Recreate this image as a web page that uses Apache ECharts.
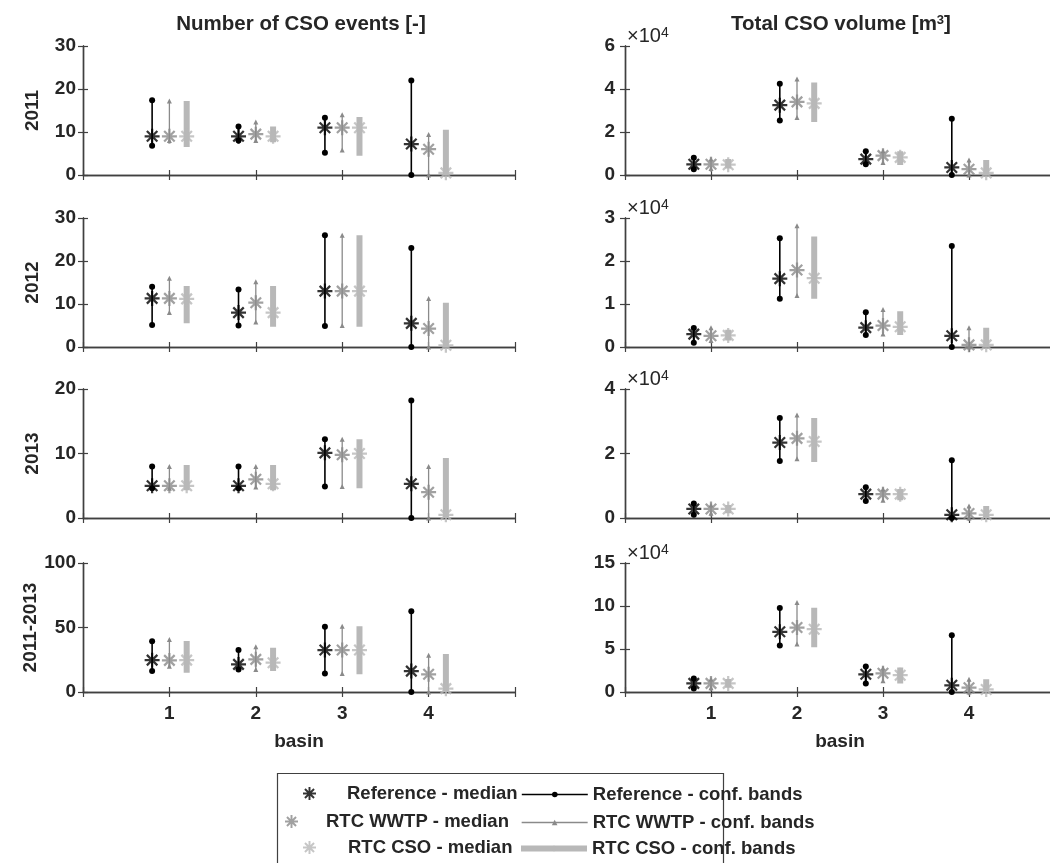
<!DOCTYPE html>
<html>
<head>
<meta charset="utf-8">
<script src="https://cdn.jsdelivr.net/npm/echarts@6/dist/echarts.min.js"></script>
<style>
html,body{margin:0;padding:0;background:#fff;}
#chart{width:1050px;height:863px;}
</style>
</head>
<body>
<div id="chart"></div>
<script>
// ---------------- DATA ----------------
const basins = [1, 2, 3, 4];
const periods = ['2011', '2012', '2013', '2011-2013'];
const scenarios = ['Reference', 'RTC WWTP', 'RTC CSO'];

// Number of CSO events [-]: per basin [lower conf. band, median, upper conf. band]
const events2011Ref  = [[6.8, 9, 17.4], [8, 9, 11.3], [5.2, 11, 13.3], [0, 7.2, 22]];
const events2011Wwtp = [[8, 9, 17.2], [8, 9.5, 12.3], [5.8, 11, 14], [0, 6, 9.4]];
const events2011Cso  = [[6.5, 9, 17.2], [7.6, 9, 11.3], [4.5, 11, 13.5], [0, 0.5, 10.5]];

const events2012Ref  = [[5.1, 11.3, 14], [5, 8, 13.4], [4.9, 13, 26], [0, 5.5, 23]];
const events2012Wwtp = [[8, 11.3, 16], [5.8, 10.3, 15.2], [5, 13, 26], [0, 4.3, 11.3]];
const events2012Cso  = [[5.5, 11.2, 14.2], [4.7, 8, 14.2], [4.7, 13, 26], [0, 0.4, 10.3]];

const events2013Ref  = [[4.6, 5, 8], [4.6, 5, 8], [4.9, 10.1, 12.2], [0, 5.3, 18.2]];
const events2013Wwtp = [[4.6, 5, 8], [4.8, 6, 8], [4.9, 9.8, 12.2], [0, 4, 8]];
const events2013Cso  = [[4.3, 5, 8.2], [4.3, 5.3, 8.2], [4.6, 10, 12.2], [0, 0.5, 9.3]];

const eventsAllRef  = [[16.2, 24.7, 39.4], [17.5, 21.4, 32.5], [14.4, 32.5, 50.5], [0, 16.2, 62.6]];
const eventsAllWwtp = [[20, 24.5, 40.7], [17.5, 25.3, 35], [14.4, 32.5, 51], [0, 13.7, 28.4]];
const eventsAllCso  = [[15, 24.7, 39.5], [16.2, 22.7, 34.3], [13.7, 32.5, 51], [0, 2.6, 29.5]];

// Total CSO volume [m3]: per basin [lower conf. band, median, upper conf. band]
const volume2011Ref  = [[2700, 5000, 8000], [25400, 32500, 42400], [5000, 7400, 11000], [0, 3500, 26200]];
const volume2011Wwtp = [[3000, 5000, 7500], [26700, 34000, 44600], [5800, 9000, 11300], [0, 2700, 7000]];
const volume2011Cso  = [[3000, 4800, 7500], [24600, 33300, 43000], [4700, 8200, 11000], [0, 1000, 7000]];

const volume2012Ref  = [[1000, 3000, 4400], [11200, 15900, 25300], [2800, 4500, 8100], [0, 2600, 23500]];
const volume2012Wwtp = [[1500, 2600, 4500], [12000, 17900, 28200], [3000, 5000, 8700], [0, 500, 4500]];
const volume2012Cso  = [[1500, 2700, 4000], [11200, 16000, 25700], [2800, 4700, 8300], [0, 500, 4500]];

const volume2013Ref  = [[1000, 2800, 4500], [17700, 23400, 31000], [5300, 7400, 9500], [0, 1000, 17900]];
const volume2013Wwtp = [[1500, 2800, 4000], [18400, 24700, 31900], [5500, 7400, 9000], [0, 1400, 3700]];
const volume2013Cso  = [[1500, 2800, 4000], [17400, 23700, 31000], [5500, 7400, 9000], [0, 1000, 3700]];

const volumeAllRef  = [[4000, 10000, 15600], [54000, 70000, 97800], [10000, 20600, 29600], [0, 7800, 66000]];
const volumeAllWwtp = [[5000, 10000, 15000], [55700, 75000, 104000], [13000, 21800, 28000], [0, 5000, 14800]];
const volumeAllCso  = [[5000, 10000, 15000], [52000, 73000, 98000], [10000, 19500, 28500], [0, 3000, 14800]];

// y-axis tick ranges
const eventsMax = [30, 30, 20, 100];
const eventsStep = [10, 10, 10, 50];
const volumeMax = [60000, 30000, 40000, 150000];
const volumeStep = [20000, 10000, 20000, 50000];

// ---------------- LAYOUT / STYLE ----------------
const panelData = [
  [events2011Ref, events2011Wwtp, events2011Cso], [volume2011Ref, volume2011Wwtp, volume2011Cso],
  [events2012Ref, events2012Wwtp, events2012Cso], [volume2012Ref, volume2012Wwtp, volume2012Cso],
  [events2013Ref, events2013Wwtp, events2013Cso], [volume2013Ref, volume2013Wwtp, volume2013Cso],
  [eventsAllRef, eventsAllWwtp, eventsAllCso], [volumeAllRef, volumeAllWwtp, volumeAllCso]
];

const rowTops = [46, 218, 389, 563];
const rowH = 129;
const colLeft = [83, 625];
const colW = [432, 430];
const offsets = [-0.2, 0, 0.2];
const FONT = 'Liberation Sans, Arial, Helvetica, sans-serif';
const TXT = '#262626';
const AX = '#404040';
const FS = 19;

const colors = ['#000000', '#8a8a8a', '#b8b8b8'];
const ASTER = 'path://M0 8.5L20 8.5L20 11.5L0 11.5Z' +
  'M8.5 0L11.5 0L11.5 20L8.5 20Z' +
  'M4.06 1.94L18.06 15.94L15.94 18.06L1.94 4.06Z' +
  'M4.06 18.06L1.94 15.94L15.94 1.94L18.06 4.06Z';

const grids = [], xAxes = [], yAxes = [], series = [];

panelData.forEach((trip, p) => {
  const row = Math.floor(p / 2), col = p % 2;
  grids.push({left: colLeft[col], top: rowTops[row], width: colW[col], height: rowH,
              outerBoundsMode: 'none', containLabel: false});
  const axisLine = {show: true, lineStyle: {color: AX, width: 1.4}};
  const tick = {show: true, inside: true, length: 5, lineStyle: {color: AX, width: 1.2}};
  const isBottom = row === 3;
  xAxes.push({
    gridIndex: p, type: 'value', min: 0, max: 5, interval: 1, position: 'bottom',
    axisLine, axisTick: tick, splitLine: {show: false},
    axisLabel: {show: isBottom, margin: 12, color: TXT, fontSize: FS, fontWeight: 'bold', fontFamily: FONT,
      formatter: v => (v >= 1 && v <= 4) ? String(v) : ''},
    name: isBottom ? 'basin' : '', nameLocation: 'middle', nameGap: 40,
    nameTextStyle: {color: TXT, fontSize: FS, fontWeight: 'bold', fontFamily: FONT}
  });
  xAxes.push({
    gridIndex: p, type: 'value', min: 0, max: 5, interval: 1, position: 'top',
    axisLine, axisTick: tick, axisLabel: {show: false}, splitLine: {show: false}
  });
  const ymax = col === 0 ? eventsMax[row] : volumeMax[row];
  const ystep = col === 0 ? eventsStep[row] : volumeStep[row];
  yAxes.push({
    gridIndex: p, type: 'value', min: 0, max: ymax, interval: ystep, position: 'left',
    axisLine, axisTick: tick, splitLine: {show: false},
    axisLabel: {margin: col === 0 ? 7 : 10, color: TXT, fontSize: FS, fontWeight: 'bold', fontFamily: FONT,
      formatter: v => col === 0 ? String(v) : String(v / 10000)},
    name: col === 0 ? periods[row] : '{x|×10}{s|4}',
    nameLocation: col === 0 ? 'middle' : 'end',
    nameRotate: col === 0 ? 90 : 0,
    nameGap: col === 0 ? 41 : 0,
    nameTextStyle: col === 0
      ? {color: TXT, fontSize: FS, fontWeight: 'bold', fontFamily: FONT}
      : {align: 'left', verticalAlign: 'bottom', padding: [0, 0, 0, 2],
         rich: {x: {color: TXT, fontSize: 20, fontFamily: FONT},
                s: {color: TXT, fontSize: 14, fontFamily: FONT, verticalAlign: 'top', padding: [0, 0, 6, 0]}}}
  });
  yAxes.push({
    gridIndex: p, type: 'value', min: 0, max: ymax, interval: ystep, position: 'right',
    axisLine, axisTick: tick, axisLabel: {show: false}, splitLine: {show: false}
  });

  trip.forEach((arr, s) => {
    const off = offsets[s];
    const band = [];
    arr.forEach((v, i) => {
      const x = basins[i] + off;
      band.push([x, v[0]], [x, v[2]], [x, '-']);
    });
    const bandSeries = {
      type: 'line', name: scenarios[s] + ' - conf. bands',
      xAxisIndex: 2 * p, yAxisIndex: 2 * p, data: band,
      connectNulls: false, animation: false, silent: true, z: 2,
      itemStyle: {color: colors[s]},
      lineStyle: {color: colors[s], width: [1.6, 1.3, 6][s], cap: 'butt'}
    };
    if (s === 0) { bandSeries.symbol = 'circle'; bandSeries.symbolSize = 6; }
    else if (s === 1) { bandSeries.symbol = 'triangle'; bandSeries.symbolSize = 5; }
    else { bandSeries.symbol = 'none'; }
    series.push(bandSeries);
    series.push({
      type: 'scatter', name: scenarios[s] + ' - median',
      xAxisIndex: 2 * p, yAxisIndex: 2 * p,
      data: arr.map((v, i) => [basins[i] + off, v[1]]),
      symbol: ASTER, symbolSize: 15, itemStyle: {color: colors[s]},
      animation: false, silent: true, z: 3
    });
  });
});

const legTxt = {color: TXT, fontSize: 18.5, fontWeight: 'bold', fontFamily: FONT};
const legends = [
  {name: 'Reference - median', left: 303, top: 784, pad: 26},
  {name: 'RTC WWTP - median', left: 285, top: 812, pad: 23},
  {name: 'RTC CSO - median', left: 303, top: 838, pad: 27},
].map(l => ({
  data: [l.name], left: l.left, top: l.top, padding: 0, itemWidth: 13, itemHeight: 13,
  selectedMode: false, textStyle: Object.assign({padding: [0, 0, 0, l.pad]}, legTxt)
})).concat([
  {name: 'Reference - conf. bands', top: 785, left: 521, w: 1.6},
  {name: 'RTC WWTP - conf. bands', top: 813, left: 521, w: 1.3},
  {name: 'RTC CSO - conf. bands', top: 839, left: 518, w: 6},
].map(l => ({
  data: [l.name], left: l.left, top: l.top, padding: 0, itemWidth: 66, itemHeight: 7,
  selectedMode: false, textStyle: legTxt, lineStyle: {width: l.w, cap: 'butt'}
})));

const option = {
  backgroundColor: '#ffffff',
  animation: false,
  title: [
    {text: 'Number of CSO events [-]', left: 296, top: 9, textAlign: 'center',
     textStyle: {color: TXT, fontSize: 20.5, fontWeight: 'bold', fontFamily: FONT}},
    {text: 'Total CSO volume [m{s|3}]', left: 836, top: 9, textAlign: 'center',
     textStyle: {color: TXT, fontSize: 20.5, fontWeight: 'bold', fontFamily: FONT,
       rich: {s: {color: TXT, fontSize: 13, fontWeight: 'bold', fontFamily: FONT, verticalAlign: 'top'}}}}
  ],
  grid: grids,
  xAxis: xAxes,
  yAxis: yAxes,
  legend: legends,
  graphic: [{
    type: 'rect', shape: {x: 277.5, y: 773.5, width: 446, height: 100},
    style: {fill: 'none', stroke: AX, lineWidth: 1.2}, silent: true, z: 0
  }],
  series: series
};

const chart = echarts.init(document.getElementById('chart'), null, {renderer: 'canvas'});
chart.setOption(option);
</script>
</body>
</html>
